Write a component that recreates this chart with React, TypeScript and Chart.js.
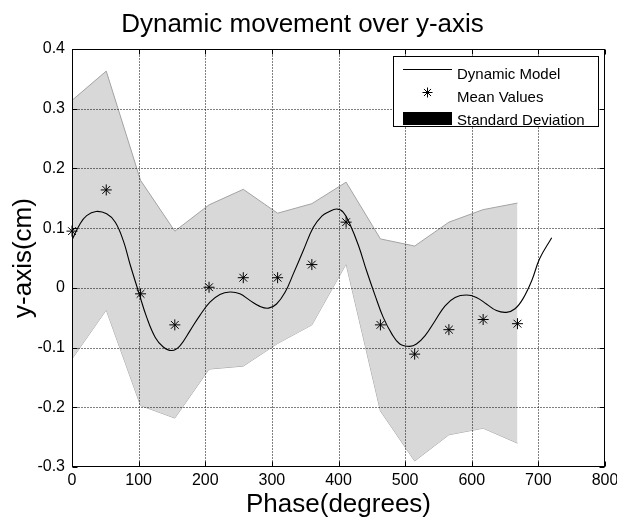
import { useEffect, useRef } from 'react';
import { Chart, registerables } from 'chart.js';

Chart.register(...registerables);

const FONT = "'Liberation Sans', Arial, Helvetica, sans-serif";

// Phase samples (degrees) at which the measurements were taken
const phaseSamples = [0, 51.4, 102.9, 154.3, 205.7, 257.1, 308.6, 360, 411.4, 462.9, 514.3, 565.7, 617.1, 668.6];
// Mean measured y displacement (cm)
const meanValues = [0.095, 0.164, -0.010, -0.062, 0.001, 0.017, 0.017, 0.039, 0.110, -0.062, -0.111, -0.070, -0.053, -0.060];
// Mean + standard deviation
const upperStd = [0.314, 0.363, 0.180, 0.095, 0.139, 0.165, 0.125, 0.141, 0.177, 0.082, 0.070, 0.110, 0.131, 0.142];
// Mean - standard deviation
const lowerStd = [-0.119, -0.037, -0.197, -0.218, -0.136, -0.131, -0.093, -0.062, 0.040, -0.206, -0.290, -0.246, -0.235, -0.260];

// Dynamic model curve
const modelPhase = [0, 12, 22, 36, 52, 65, 77, 87, 100, 112, 125, 137, 150, 162, 177, 192, 207, 222, 237, 252, 267, 282, 295, 307, 320, 332, 347, 362, 375, 385, 397, 407, 417, 430, 442, 455, 467, 480, 492, 507, 517, 530, 545, 560, 575, 592, 607, 622, 637, 652, 665, 677, 690, 702, 720];
const modelValues = [0.080, 0.107, 0.121, 0.128, 0.124, 0.110, 0.079, 0.040, -0.007, -0.049, -0.083, -0.099, -0.105, -0.097, -0.072, -0.046, -0.024, -0.011, -0.007, -0.010, -0.021, -0.031, -0.034, -0.027, -0.007, 0.023, 0.062, 0.101, 0.120, 0.127, 0.132, 0.127, 0.107, 0.071, 0.029, -0.013, -0.049, -0.077, -0.094, -0.098, -0.094, -0.080, -0.055, -0.030, -0.016, -0.012, -0.016, -0.027, -0.038, -0.041, -0.035, -0.018, 0.012, 0.049, 0.084];

const xTicks = [0, 100, 200, 300, 400, 500, 600, 700, 800];
const yTicks = [-0.3, -0.2, -0.1, 0, 0.1, 0.2, 0.3, 0.4];

const BAND_FILL = '#d8d8d8';
const BAND_EDGE = '#a3a3a3';
const TICK_LEN = 5;

const pts = (xs: number[], ys: number[]) => xs.map((x, i) => ({ x, y: ys[i] }));

function drawStar(ctx: CanvasRenderingContext2D, cx: number, cy: number, r: number) {
  const d = r * Math.SQRT1_2;
  ctx.beginPath();
  ctx.moveTo(cx - r, cy); ctx.lineTo(cx + r, cy);
  ctx.moveTo(cx, cy - r); ctx.lineTo(cx, cy + r);
  ctx.moveTo(cx - d, cy - d); ctx.lineTo(cx + d, cy + d);
  ctx.moveTo(cx - d, cy + d); ctx.lineTo(cx + d, cy - d);
  ctx.stroke();
}

// Dotted grid, axes box and inward tick marks drawn over the shaded band
const framePlugin = {
  id: 'matlabFrame',
  afterDatasetsDraw(chart: any) {
    const { ctx, chartArea: a, scales } = chart;
    const sx = scales.x, sy = scales.y;
    const L = Math.round(a.left) + 0.5;
    const R = Math.round(a.right) - 0.5;
    const T = Math.round(a.top) + 0.5;
    const B = Math.round(a.bottom) - 0.5;
    ctx.save();
    ctx.strokeStyle = '#000';
    ctx.lineWidth = 1;
    ctx.setLineDash([1, 2]);
    ctx.beginPath();
    xTicks.forEach((v) => {
      if (v <= sx.min || v >= sx.max) return;
      const px = Math.round(sx.getPixelForValue(v)) + 0.5;
      ctx.moveTo(px, T); ctx.lineTo(px, B);
    });
    yTicks.forEach((v) => {
      if (v <= sy.min + 1e-9 || v >= sy.max - 1e-9) return;
      const py = Math.round(sy.getPixelForValue(v)) + 0.5;
      ctx.moveTo(L, py); ctx.lineTo(R, py);
    });
    ctx.stroke();
    ctx.setLineDash([]);
    ctx.beginPath();
    xTicks.forEach((v) => {
      const px = Math.round(sx.getPixelForValue(v)) + 0.5;
      ctx.moveTo(px, B); ctx.lineTo(px, B - TICK_LEN);
      ctx.moveTo(px, T); ctx.lineTo(px, T + TICK_LEN);
    });
    yTicks.forEach((v) => {
      const py = Math.round(sy.getPixelForValue(v)) + 0.5;
      ctx.moveTo(L, py); ctx.lineTo(L + TICK_LEN, py);
      ctx.moveTo(R, py); ctx.lineTo(R - TICK_LEN, py);
    });
    ctx.stroke();
    ctx.strokeRect(L, T, R - L, B - T);
    ctx.restore();
  },
};

// Boxed legend in the upper right corner of the axes
const legendPlugin = {
  id: 'matlabLegend',
  afterDraw(chart: any) {
    const { ctx } = chart;
    const ds = chart.data.datasets;
    const bx = 393.5, by = 56.5, bw = 205, bh = 70;
    const sx0 = 403, sx1 = 452, tx = 457;
    ctx.save();
    ctx.fillStyle = '#fff';
    ctx.fillRect(bx, by, bw, bh);
    ctx.strokeStyle = '#000';
    ctx.lineWidth = 1;
    ctx.strokeRect(bx, by, bw, bh);

    ctx.beginPath();
    ctx.moveTo(sx0, 69.5); ctx.lineTo(sx1, 69.5);
    ctx.stroke();
    drawStar(ctx, (sx0 + sx1) / 2, 92.5, 5);
    ctx.fillStyle = '#000';
    ctx.fillRect(sx0, 112, sx1 - sx0, 13);

    ctx.font = `15px ${FONT}`;
    ctx.textAlign = 'left';
    ctx.textBaseline = 'alphabetic';
    ctx.fillText(ds[1].label, tx, 78.5);
    ctx.fillText(ds[0].label, tx, 102);
    ctx.fillText(ds[2].label, tx, 124.5);
    ctx.restore();
  },
};

const fmt = (v: number) => String(Number(v.toFixed(1)));

export default function App() {
  const ref = useRef<HTMLCanvasElement | null>(null);

  useEffect(() => {
    if (!ref.current) return;
    const chart = new Chart(ref.current, {
      type: 'line',
      data: {
        datasets: [
          {
            label: 'Mean Values',
            data: pts(phaseSamples, meanValues),
            showLine: false,
            pointStyle: 'star',
            pointRadius: 5.5,
            pointBorderWidth: 1,
            pointBorderColor: '#000',
            pointBackgroundColor: '#000',
            clip: false,
          },
          {
            label: 'Dynamic Model',
            data: pts(modelPhase, modelValues),
            borderColor: '#000',
            borderWidth: 1.1,
            pointRadius: 0,
            tension: 0.4,
            fill: false,
          },
          {
            label: 'Standard Deviation',
            data: pts(phaseSamples, upperStd),
            borderColor: BAND_EDGE,
            borderWidth: 1,
            backgroundColor: BAND_FILL,
            pointRadius: 0,
            tension: 0,
            fill: '+1',
          },
          {
            label: 'lower',
            data: pts(phaseSamples, lowerStd),
            borderColor: BAND_EDGE,
            borderWidth: 1,
            pointRadius: 0,
            tension: 0,
            fill: false,
          },
        ],
      },
      options: {
        animation: false,
        responsive: false,
        devicePixelRatio: 1,
        layout: { padding: { left: 0, right: 12, top: 0, bottom: 0 } },
        plugins: {
          legend: { display: false },
          tooltip: { enabled: false },
          title: {
            display: true,
            text: 'Dynamic movement over y-axis',
            color: '#000',
            font: { family: FONT, size: 26, weight: 'normal', lineHeight: 1.2 },
            padding: { top: 9.4, bottom: 8.4 },
          },
        },
        scales: {
          x: {
            type: 'linear',
            min: 0,
            max: 800,
            afterBuildTicks: (s: any) => { s.ticks = xTicks.map((value) => ({ value })); },
            afterFit: (s: any) => { s.height = 53; s.paddingLeft = 0; s.paddingRight = 0; },
            grid: { display: false, drawTicks: false },
            border: { display: false },
            ticks: {
              color: '#000',
              padding: 4,
              maxRotation: 0,
              autoSkip: false,
              font: { family: FONT, size: 16 },
              callback: (v: any) => String(v),
            },
            title: {
              display: true,
              text: 'Phase(degrees)',
              color: '#000',
              font: { family: FONT, size: 26, lineHeight: 1.2 },
              padding: { top: 0, bottom: 0 },
            },
          },
          y: {
            type: 'linear',
            min: -0.3,
            max: 0.4,
            afterBuildTicks: (s: any) => { s.ticks = yTicks.map((value) => ({ value })); },
            afterFit: (s: any) => { s.width = 72; s.paddingTop = 0; s.paddingBottom = 0; },
            grid: { display: false, drawTicks: false },
            border: { display: false },
            ticks: {
              color: '#000',
              padding: 7,
              autoSkip: false,
              font: { family: FONT, size: 16 },
              callback: (v: any) => fmt(Number(v)),
            },
            title: {
              display: true,
              text: 'y-axis(cm)',
              color: '#000',
              font: { family: FONT, size: 26, lineHeight: 1.2 },
              padding: { top: 8, bottom: 0 },
            },
          },
        },
      },
      plugins: [framePlugin, legendPlugin],
    });
    return () => chart.destroy();
  }, []);

  return (
    <div style={{ position: 'absolute', left: 0, top: 0, width: 617, height: 520, background: '#fff' }}>
      <canvas ref={ref} width={617} height={520} style={{ width: 617, height: 520, display: 'block' }} />
    </div>
  );
}
